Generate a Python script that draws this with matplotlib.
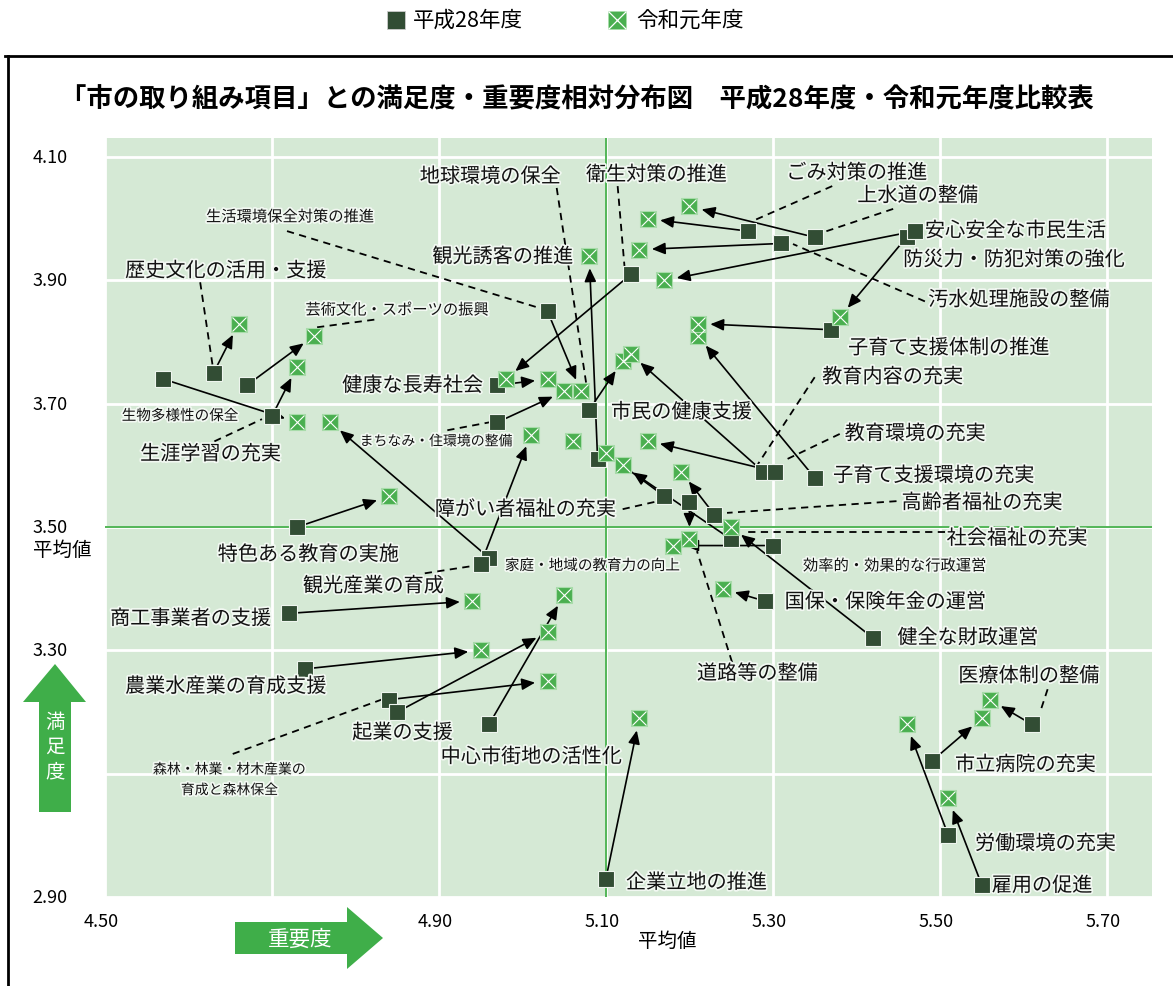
import matplotlib
matplotlib.use("Agg")
import matplotlib.pyplot as plt
import matplotlib.patches as mpatches
import matplotlib.patheffects as pe
from matplotlib.lines import Line2D

plt.rcParams['font.family'] = ['Noto Sans CJK JP', 'DejaVu Sans']

# 項目 (平成28年度 -> 令和元年度)
items = [
    "生物多様性の保全", "歴史文化の活用・支援", "芸術文化・スポーツの振興", "生涯学習の充実",
    "特色ある教育の実施", "商工事業者の支援", "農業水産業の育成支援", "森林・林業・材木産業の育成と森林保全",
    "起業の支援", "中心市街地の活性化", "家庭・地域の教育力の向上", "観光産業の育成",
    "健康な長寿社会", "まちなみ・住環境の整備", "生活環境保全対策の推進", "市民の健康支援",
    "観光誘客の推進", "衛生対策の推進", "障がい者福祉の充実", "道路等の整備",
    "高齢者福祉の充実", "社会福祉の充実", "効率的・効果的な行政運営", "国保・保険年金の運営",
    "健全な財政運営", "教育内容の充実", "教育環境の充実", "子育て支援環境の充実",
    "子育て支援体制の推進", "防災力・防犯対策の強化", "安心安全な市民生活", "汚水処理施設の整備",
    "上水道の整備", "ごみ対策の推進", "医療体制の整備", "市立病院の充実",
    "労働環境の充実", "雇用の促進", "企業立地の推進", "地球環境の保全",
]
# 重要度 / 満足度 平成28年度
h28_x = [4.57, 4.63, 4.67, 4.70, 4.73, 4.72, 4.74, 4.84, 4.85, 4.96,
         4.96, 4.95, 4.97, 4.97, 5.03, 5.08, 5.09, 5.13, 5.17, 5.20,
         5.23, 5.25, 5.30, 5.29, 5.42, 5.288, 5.302, 5.35, 5.37, 5.46,
         5.47, 5.31, 5.35, 5.27, 5.61, 5.49, 5.51, 5.55, 5.10, 5.06]
h28_y = [3.74, 3.75, 3.73, 3.68, 3.50, 3.36, 3.27, 3.22, 3.20, 3.18,
         3.45, 3.44, 3.73, 3.67, 3.85, 3.69, 3.61, 3.91, 3.55, 3.54,
         3.52, 3.48, 3.47, 3.38, 3.32, 3.59, 3.59, 3.58, 3.82, 3.97,
         3.98, 3.96, 3.97, 3.98, 3.18, 3.12, 3.00, 2.92, 2.93, 3.72]
# 重要度 / 満足度 令和元年度
r1_x = [4.73, 4.66, 4.75, 4.73, 4.84, 4.94, 4.95, 5.03, 5.03, 5.05,
        4.77, 5.01, 5.03, 5.05, 5.07, 5.12, 5.08, 4.98, 5.10, 5.20,
        5.19, 5.12, 5.18, 5.24, 5.25, 5.13, 5.15, 5.21, 5.21, 5.38,
        5.17, 5.14, 5.20, 5.15, 5.56, 5.55, 5.46, 5.51, 5.14, 5.06]
r1_y = [3.67, 3.83, 3.81, 3.76, 3.55, 3.38, 3.30, 3.25, 3.33, 3.39,
        3.67, 3.65, 3.74, 3.72, 3.72, 3.77, 3.94, 3.74, 3.62, 3.48,
        3.59, 3.60, 3.47, 3.40, 3.50, 3.78, 3.64, 3.81, 3.83, 3.84,
        3.90, 3.95, 4.02, 4.00, 3.22, 3.19, 3.18, 3.06, 3.19, 3.64]
no_arrow = ["地球環境の保全"]

mean_x = 5.10
mean_y = 3.50
x_ticks = [4.50, 4.70, 4.90, 5.10, 5.30, 5.50, 5.70]
x_ticklabels = ["4.50", "", "4.90", "5.10", "5.30", "5.50", "5.70"]
y_ticks = [2.90, 3.10, 3.30, 3.50, 3.70, 3.90, 4.10]
y_ticklabels = ["2.90", "", "3.30", "3.50", "3.70", "3.90", "4.10"]

# ラベル配置 (左端x, 中心y, 大きさ)
labels = [
    ("地球環境の保全", 4.877, 4.068, 14.5), ("衛生対策の推進", 5.076, 4.071, 14.5),
    ("ごみ対策の推進", 5.316, 4.074, 14.5), ("上水道の整備", 5.401, 4.037, 14.5),
    ("安心安全な市民生活", 5.482, 3.980, 14.5), ("防災力・防犯対策の強化", 5.456, 3.933, 14.5),
    ("汚水処理施設の整備", 5.486, 3.868, 14.5), ("子育て支援体制の推進", 5.390, 3.790, 14.5),
    ("教育内容の充実", 5.359, 3.743, 14.5), ("教育環境の充実", 5.386, 3.651, 14.5),
    ("子育て支援環境の充実", 5.372, 3.583, 14.5), ("高齢者福祉の充実", 5.454, 3.539, 14.5),
    ("社会福祉の充実", 5.508, 3.481, 14.5), ("効率的・効果的な行政運営", 5.336, 3.437, 11),
    ("国保・保険年金の運営", 5.314, 3.378, 14.5), ("健全な財政運営", 5.449, 3.320, 14.5),
    ("医療体制の整備", 5.522, 3.258, 14.5), ("市立病院の充実", 5.518, 3.114, 14.5),
    ("労働環境の充実", 5.542, 2.986, 14.5), ("雇用の促進", 5.562, 2.918, 14.5),
    ("企業立地の推進", 5.124, 2.923, 14.5), ("道路等の整備", 5.209, 3.262, 14.5),
    ("中心市街地の活性化", 4.902, 3.127, 14.5), ("起業の支援", 4.796, 3.166, 14.5),
    ("農業水産業の育成支援", 4.524, 3.241, 14.5), ("商工事業者の支援", 4.506, 3.351, 14.5),
    ("観光産業の育成", 4.737, 3.404, 14.5), ("特色ある教育の実施", 4.635, 3.455, 14.5),
    ("家庭・地域の教育力の向上", 4.979, 3.437, 10.5), ("障がい者福祉の充実", 4.895, 3.528, 14.5),
    ("まちなみ・住環境の整備", 4.805, 3.639, 10), ("生涯学習の充実", 4.542, 3.618, 14.5),
    ("生物多様性の保全", 4.520, 3.680, 10.5), ("歴史文化の活用・支援", 4.524, 3.915, 14.5),
    ("芸術文化・スポーツの振興", 4.740, 3.852, 11), ("生活環境保全対策の推進", 4.621, 4.003, 11),
    ("観光誘客の推進", 4.892, 3.938, 14.5), ("健康な長寿社会", 4.784, 3.729, 14.5),
    ("市民の健康支援", 5.106, 3.686, 14.5),
]
forest_label = ("森林・林業・材木産業の\n育成と森林保全", 4.649, 3.090, 10)

# 引き出し線 (破線)
leaders = [
    ((5.041, 4.050), (5.077, 3.727)), ((5.114, 4.053), (5.123, 3.910)),
    ((5.371, 4.053), (5.275, 3.996)), ((5.444, 4.016), (5.360, 3.978)),
    ((5.482, 3.866), (5.324, 3.959)), ((5.350, 3.743), (5.282, 3.602)),
    ((5.380, 3.651), (5.312, 3.607)), ((5.448, 3.542), (5.245, 3.523)),
    ((5.506, 3.492), (5.264, 3.492)), ((5.120, 3.529), (5.159, 3.541)),
    ((5.251, 3.281), (5.209, 3.461)), ((5.629, 3.237), (5.620, 3.200)),
    ((4.883, 3.425), (4.941, 3.437)), ((4.653, 3.132), (4.833, 3.221)),
    ((4.631, 3.639), (4.688, 3.675)), ((4.614, 3.897), (4.629, 3.761)),
    ((4.754, 3.824), (4.826, 3.837)), ((4.718, 3.980), (5.021, 3.855)),
    ((4.910, 3.657), (4.961, 3.670)),
]

dark = '#324d34'
green = '#4aaf50'
bg = '#d5e9d5'
line_green = '#45b04a'

W, H = 1173, 987


def fp(x, y):
    # ピクセル位置 -> figure座標
    return (x / W, 1 - y / H)


fig = plt.figure(figsize=(W / 100, H / 100), dpi=100)
ax = fig.add_axes([105 / W, 1 - 898 / H, (1152 - 105) / W, (898 - 139) / H])
ax.set_xlim(4.50, 5.754)
ax.set_ylim(2.90, 4.131)
ax.set_facecolor(bg)
for s in ax.spines.values():
    s.set_visible(False)
ax.set_xticks(x_ticks)
ax.set_yticks(y_ticks)
ax.tick_params(length=0, labelbottom=False, labelleft=False)
ax.grid(color='white', lw=2.0)
ax.set_axisbelow(True)
ax.axvline(mean_x, color=line_green, lw=1.3, zorder=1.5)
ax.axhline(mean_y, color=line_green, lw=1.3, zorder=1.5)

# 目盛ラベル
for v, t in zip(x_ticks, x_ticklabels):
    ax.text(v - 0.005, 2.861, t, ha='center', va='center', fontsize=13, clip_on=False)
for v, t in zip(y_ticks, y_ticklabels):
    ax.text(4.434, v, t, ha='center', va='center', fontsize=13, clip_on=False)
ax.text(4.449, 3.463, "平均値", ha='center', va='center', fontsize=14, clip_on=False)
ax.text(5.173, 2.829, "平均値", ha='center', va='center', fontsize=14, clip_on=False)

# 破線
for (a, b) in leaders:
    ax.plot([a[0], b[0]], [a[1], b[1]], color='black', lw=1.3, ls=(0, (4, 3)), zorder=2)

# 矢印
for name, x0, y0, x1, y1 in zip(items, h28_x, h28_y, r1_x, r1_y):
    if name in no_arrow:
        continue
    ax.annotate('', xy=(x1, y1), xytext=(x0, y0),
                arrowprops=dict(arrowstyle='-|>,head_length=0.5,head_width=0.22',
                                color='black', lw=1.2, shrinkA=6, shrinkB=9,
                                mutation_scale=16), zorder=3)

ax.plot(h28_x, h28_y, ls='none', marker='s', ms=11, mfc=dark,
        mec='#eef5ee', mew=0.8, zorder=4)
ax.plot(r1_x, r1_y, ls='none', marker='s', ms=11, mfc=green,
        mec='#a8dcaa', mew=0.8, zorder=5)
ax.plot(r1_x, r1_y, ls='none', marker='x', ms=10.5, mec='white', mew=0.8, zorder=6)

halo = [pe.withStroke(linewidth=2.5, foreground='#f2f8f2')]
for t, x, y, s in labels:
    ax.text(x, y, t, ha='left', va='center', fontsize=s, color='#111111',
            path_effects=halo, zorder=7, clip_on=False)
t, x, y, s = forest_label
ax.text(x, y, t, ha='center', va='center', fontsize=s, color='#111111',
        linespacing=1.6, path_effects=halo, zorder=7)

# 外枠
fig.add_artist(Line2D([5 / W, 1], [1 - 57 / H] * 2, color='black', lw=2.0))
fig.add_artist(Line2D([8 / W] * 2, [1 - 57 / H, 0], color='black', lw=2.0))

# タイトル
fig.text(60 / W, 1 - 100 / H,
         "「市の取り組み項目」との満足度・重要度相対分布図　平成28年度・令和元年度比較表",
         ha='left', va='center', fontsize=19, fontweight='bold')

# 凡例
fig.add_artist(Line2D([396 / W], [1 - 21 / H], marker='s', ms=13, mfc=dark,
                      mec='#cccccc', mew=0.6, ls='none'))
fig.text(413 / W, 1 - 21 / H, "平成28年度", ha='left', va='center', fontsize=15.5)
fig.add_artist(Line2D([617 / W], [1 - 21 / H], marker='s', ms=13, mfc=green,
                      mec='#a8dcaa', mew=0.6, ls='none'))
fig.add_artist(Line2D([617 / W], [1 - 21 / H], marker='x', ms=12.5, mec='white',
                      mew=0.9, ls='none'))
fig.text(636 / W, 1 - 21 / H, "令和元年度", ha='left', va='center', fontsize=15.5)

# 軸の矢印
up = [fp(55, 665), fp(86, 703), fp(71, 703), fp(71, 813), fp(39, 813), fp(39, 703), fp(23, 703)]
fig.add_artist(mpatches.Polygon(up, closed=True, transform=fig.transFigure,
                                facecolor='#3fae49', edgecolor='none'))
for ch, yy in zip("満足度", [722, 747, 772]):
    fig.text(55 / W, 1 - yy / H, ch, ha='center', va='center', fontsize=14, color='white')
right = [fp(235, 923), fp(347, 923), fp(347, 908), fp(383, 939), fp(347, 970), fp(347, 955), fp(235, 955)]
fig.add_artist(mpatches.Polygon(right, closed=True, transform=fig.transFigure,
                                facecolor='#3fae49', edgecolor='none'))
fig.text(300 / W, 1 - 940 / H, "重要度", ha='center', va='center', fontsize=15.5, color='white')

fig.savefig('out.png', dpi=100)
